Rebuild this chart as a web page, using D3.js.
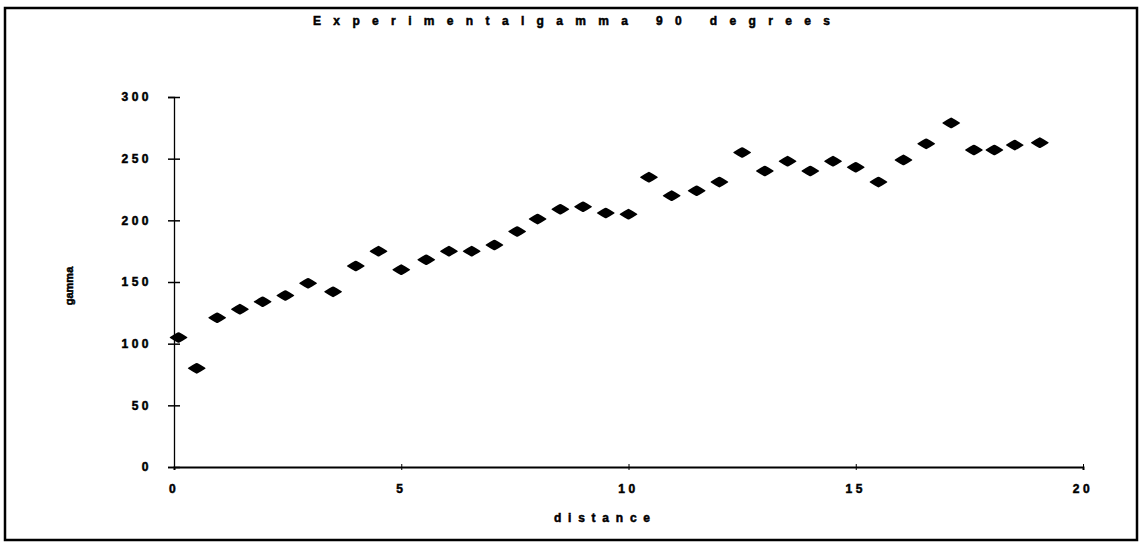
<!DOCTYPE html>
<html>
<head>
<meta charset="utf-8">
<script src="https://cdn.jsdelivr.net/npm/d3@7"></script>
<style>
  body { margin: 0; background: #fff; }
  svg { display: block; }
  text { font-family: "Liberation Sans", Arial, sans-serif; font-weight: bold; fill: #000; stroke: #000; stroke-width: 0.5px; }
</style>
</head>
<body>
<div id="chart"></div>
<script>
// distance / gamma readings
const distance = [0.1, 0.5, 0.95, 1.45, 1.95, 2.45, 2.95, 3.5, 4, 4.5,
  5, 5.55, 6.05, 6.55, 7.05, 7.55, 8, 8.5, 9, 9.5,
  10, 10.45, 10.95, 11.5, 12, 12.5, 13, 13.5, 14, 14.5,
  15, 15.5, 16.05, 16.55, 17.1, 17.6, 18.05, 18.5, 19.05];
const gamma = [105, 80, 121, 128, 134, 139, 149, 142, 163, 175,
  160, 168, 175, 175, 180, 191, 201, 209, 211, 206,
  205, 235, 220, 224, 231, 255, 240, 248, 240, 248,
  243, 231, 249, 262, 279, 257, 257, 261, 263];
const xTicks = [0, 5, 10, 15, 20];
const yTicks = [0, 50, 100, 150, 200, 250, 300];

const width = 1142, height = 553;

const svg = d3.select("#chart").append("svg")
    .attr("width", width)
    .attr("height", height);

// outer frame
svg.append("rect")
    .attr("x", 5).attr("y", 8)
    .attr("width", 1132).attr("height", 532)
    .attr("fill", "none")
    .attr("stroke", "#000")
    .attr("stroke-width", 2.5);

const x = d3.scaleLinear().domain([0, 20]).range([174, 1083]);
const y = d3.scaleLinear().domain([0, 300]).range([467, 97]);

// y axis - ticks cross the line
const yAxis = svg.append("g")
    .attr("transform", `translate(${x(0)},0)`)
    .call(d3.axisLeft(y).tickValues(yTicks).tickSize(6).tickFormat(""));
yAxis.select(".domain").attr("stroke-width", 1.3);
yAxis.selectAll(".tick").append("line")
    .attr("x2", 6).attr("stroke", "#000").attr("stroke-width", 1.5);
yAxis.selectAll(".tick line").attr("stroke-width", 1.5);

svg.append("g").selectAll("text")
    .data(yTicks)
    .join("text")
    .attr("x", 152)
    .attr("y", (d) => y(d))
    .attr("dy", "0.35em")
    .attr("text-anchor", "end")
    .attr("font-size", 12)
    .attr("letter-spacing", "3.5px")
    .text((d) => d);

// x axis
const xAxis = svg.append("g")
    .attr("transform", `translate(0,${y(0)})`)
    .call(d3.axisBottom(x).tickValues(xTicks).tickSize(3).tickFormat(""));
xAxis.select(".domain").attr("stroke-width", 2);
xAxis.selectAll(".tick line").attr("y1", -3);

svg.append("g").selectAll("text")
    .data(xTicks)
    .join("text")
    .attr("x", (d) => x(d))
    .attr("y", 493)
    .attr("text-anchor", "middle")
    .attr("font-size", 12)
    .attr("letter-spacing", "3.5px")
    .text((d) => d);

// titles
svg.append("text")
    .attr("x", 313).attr("y", 25)
    .attr("font-size", 12)
    .attr("textLength", 517)
    .attr("lengthAdjust", "spacing")
    .text("Experimentalgamma 90 degrees");

svg.append("text")
    .attr("x", 554).attr("y", 522)
    .attr("font-size", 12)
    .attr("textLength", 96)
    .attr("lengthAdjust", "spacing")
    .text("distance");

svg.append("text")
    .attr("transform", "translate(73,286) rotate(-90)")
    .attr("text-anchor", "middle")
    .attr("font-size", 11)
    .text("gamma");

// flattened diamond markers
const diamond = "M-9,0 Q-8,-1 -1,-5 Q0,-5.6 1,-5 Q8,-1 9,0 Q8,1 1,5 Q0,5.6 -1,5 Q-8,1 -9,0 Z";
svg.append("g").selectAll("path")
    .data(distance.map((d, i) => ({ d: d, g: gamma[i] })))
    .join("path")
    .attr("d", diamond)
    .attr("transform", (p) => `translate(${x(p.d)},${y(p.g)})`)
    .attr("fill", "#000");
</script>
</body>
</html>
